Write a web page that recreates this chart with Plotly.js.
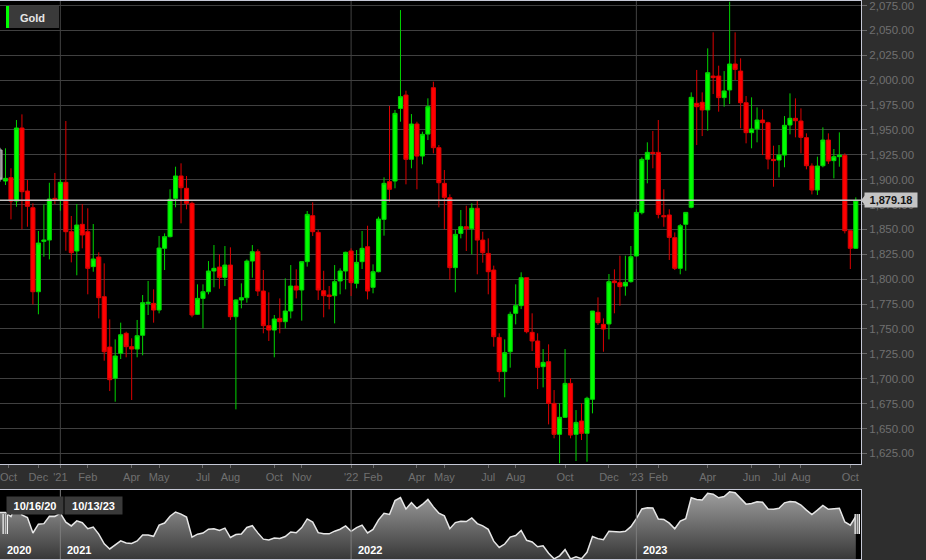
<!DOCTYPE html>
<html><head><meta charset="utf-8">
<script src="https://cdn.plot.ly/plotly-3.0.1.min.js"></script>
<style>html,body{margin:0;padding:0;background:#2e2e2e;overflow:hidden}#chart{width:926px;height:560px}</style>
</head><body><div id="chart"></div>
<script>
const seriesName = 'Gold';
const dates = [
'2020-10-16','2020-10-23','2020-10-30','2020-11-06','2020-11-13','2020-11-20','2020-11-27','2020-12-04','2020-12-11','2020-12-18','2020-12-25',
'2021-01-01','2021-01-08','2021-01-15','2021-01-22','2021-01-29','2021-02-05','2021-02-12','2021-02-19','2021-02-26','2021-03-05','2021-03-12','2021-03-19','2021-03-26','2021-04-02','2021-04-09','2021-04-16','2021-04-23','2021-04-30','2021-05-07','2021-05-14','2021-05-21','2021-05-28','2021-06-04','2021-06-11','2021-06-18','2021-06-25','2021-07-02','2021-07-09','2021-07-16','2021-07-23','2021-07-30','2021-08-06','2021-08-13','2021-08-20','2021-08-27','2021-09-03','2021-09-10','2021-09-17','2021-09-24','2021-10-01','2021-10-08','2021-10-15','2021-10-22','2021-10-29','2021-11-05','2021-11-12','2021-11-19','2021-11-26','2021-12-03','2021-12-10','2021-12-17','2021-12-24','2021-12-31',
'2022-01-07','2022-01-14','2022-01-21','2022-01-28','2022-02-04','2022-02-11','2022-02-18','2022-02-25','2022-03-04','2022-03-11','2022-03-18','2022-03-25','2022-04-01','2022-04-08','2022-04-15','2022-04-22','2022-04-29','2022-05-06','2022-05-13','2022-05-20','2022-05-27','2022-06-03','2022-06-10','2022-06-17','2022-06-24','2022-07-01','2022-07-08','2022-07-15','2022-07-22','2022-07-29','2022-08-05','2022-08-12','2022-08-19','2022-08-26','2022-09-02','2022-09-09','2022-09-16','2022-09-23','2022-09-30','2022-10-07','2022-10-14','2022-10-21','2022-10-28','2022-11-04','2022-11-11','2022-11-18','2022-11-25','2022-12-02','2022-12-09','2022-12-16','2022-12-23','2022-12-30',
'2023-01-06','2023-01-13','2023-01-20','2023-01-27','2023-02-03','2023-02-10','2023-02-17','2023-02-24','2023-03-03','2023-03-10','2023-03-17','2023-03-24','2023-03-31','2023-04-07','2023-04-14','2023-04-21','2023-04-28','2023-05-05','2023-05-12','2023-05-19','2023-05-26','2023-06-02','2023-06-09','2023-06-16','2023-06-23','2023-06-30','2023-07-07','2023-07-14','2023-07-21','2023-07-28','2023-08-04','2023-08-11','2023-08-18','2023-08-25','2023-09-01','2023-09-08','2023-09-15','2023-09-22','2023-09-29','2023-10-06','2023-10-13'];

const open = [
1929.8,1898.6,1902.0,1878.5,1951.9,1888.6,1871.8,1787.4,1838.0,1839.3,
1881.2,1879.5,1897.3,1847.7,1828.3,1855.1,1847.7,1812.6,1822.3,1782.4,
1731.8,1700.4,1725.5,1745.6,1732.2,1729.8,1743.6,1775.7,1775.7,1769.0,
1831.0,1842.7,1881.2,1903.7,1891.3,1876.2,1764.7,1780.7,1787.4,1808.2,
1812.2,1801.8,1814.2,1762.3,1779.1,1781.4,1818.2,1827.6,1788.1,1753.3,
1748.9,1760.6,1757.3,1768.0,1793.1,1789.1,1817.6,1863.8,1847.0,1788.4,
1784.1,1783.4,1798.2,1808.2,1828.3,1795.8,1817.6,1832.6,1791.8,1807.5,
1860.1,1898.0,1898.6,1971.6,1985.0,1920.4,1955.9,1923.7,1945.8,1992.4,
1932.1,1896.3,1881.9,1811.6,1846.0,1852.7,1850.7,1871.2,1839.3,1825.9,
1809.2,1741.5,1707.1,1727.1,1765.7,1773.4,1801.5,1746.6,1737.9,1712.1,
1717.1,1675.2,1644.1,1661.2,1695.3,1644.1,1657.5,1645.1,1679.3,1766.7,
1754.6,1755.0,1798.2,1796.5,1793.1,1797.5,1823.3,1866.8,1920.4,1927.4,
1927.4,1863.8,1864.5,1841.7,1810.9,1855.1,1872.2,1976.7,1977.7,1970.0,
2004.1,2004.1,1982.4,1990.1,2016.2,2009.1,1977.3,1947.2,1950.9,1959.9,
1957.2,1920.4,1919.7,1924.7,1954.9,1961.6,1958.9,1942.2,1913.7,1889.6,
1914.0,1939.8,1919.1,1923.1,1924.4,1848.7,1831.0];

const high = [
1932.0,1931.5,1911.4,1959.9,1965.6,1899.6,1876.2,1848.4,1875.2,1896.9,
1906.7,1900.3,1958.9,1863.5,1875.5,1875.5,1871.2,1855.4,1827.0,1815.9,
1759.6,1739.5,1756.3,1747.2,1740.6,1759.0,1784.1,1798.2,1789.8,1843.4,
1846.0,1890.3,1913.0,1916.4,1903.7,1877.9,1794.8,1794.8,1818.2,1834.3,
1824.9,1833.3,1832.0,1779.7,1795.8,1819.9,1834.3,1830.0,1809.2,1786.8,
1764.0,1780.7,1800.8,1814.2,1809.9,1817.6,1868.5,1877.2,1849.4,1808.5,
1793.1,1814.2,1810.9,1827.6,1831.0,1829.3,1848.4,1853.7,1814.9,1862.8,
1902.3,1974.0,1970.0,2070.4,1989.4,1965.9,1958.2,1948.2,1981.7,1998.4,
1934.8,1909.7,1885.2,1849.4,1869.5,1873.8,1876.2,1878.5,1847.7,1841.0,
1813.6,1745.6,1739.5,1767.3,1794.8,1806.9,1801.5,1765.7,1745.6,1729.8,
1734.5,1688.6,1675.2,1729.8,1700.4,1668.5,1675.2,1681.9,1768.0,1781.7,
1760.6,1805.2,1809.9,1823.6,1823.6,1833.3,1870.2,1922.4,1937.5,1948.9,
1959.9,1890.3,1870.2,1847.0,1855.4,1867.1,1987.7,2010.2,1987.7,2031.9,
2048.0,2014.5,2009.1,2078.8,2048.0,2021.9,1984.0,1982.7,1972.6,1970.6,
1958.2,1934.1,1934.8,1963.9,1986.7,1981.7,1971.6,1946.5,1916.4,1923.1,
1952.5,1946.5,1930.8,1947.5,1926.4,1848.7,1882.2];

const low = [
1898.0,1894.6,1860.1,1872.8,1850.1,1852.7,1774.7,1764.7,1822.6,1819.9,
1875.5,1868.8,1828.6,1816.9,1803.9,1831.0,1784.8,1807.5,1760.6,1718.1,
1687.6,1676.9,1719.8,1721.5,1678.6,1721.5,1723.5,1764.0,1756.3,1765.7,
1809.2,1842.0,1872.2,1856.1,1870.2,1761.7,1764.0,1750.6,1784.8,1791.8,
1790.4,1793.1,1759.0,1669.2,1770.7,1776.4,1801.5,1783.1,1745.6,1737.9,
1721.5,1745.6,1750.6,1760.6,1780.7,1758.3,1812.6,1843.4,1779.1,1761.7,
1769.7,1755.6,1784.8,1789.8,1783.1,1790.8,1810.2,1779.7,1785.8,1806.9,
1843.7,1877.9,1891.3,1958.2,1895.3,1911.4,1890.3,1915.4,1939.8,1926.4,
1872.2,1850.1,1799.2,1786.8,1841.0,1828.3,1824.9,1804.9,1816.6,1784.8,
1732.2,1697.0,1681.3,1711.1,1754.6,1770.0,1745.6,1727.8,1689.6,1691.3,
1654.1,1640.1,1615.0,1660.5,1640.1,1617.3,1638.4,1616.6,1665.2,1753.9,
1727.1,1739.5,1765.7,1773.4,1783.4,1796.5,1822.6,1865.1,1896.3,1911.4,
1861.1,1852.7,1819.3,1809.2,1804.9,1808.5,1871.2,1934.8,1943.8,1949.2,
1986.0,1968.3,1973.3,1976.0,2000.1,1951.5,1936.5,1931.5,1937.5,1924.7,
1910.4,1892.9,1902.3,1912.4,1945.5,1942.5,1926.4,1910.4,1885.2,1884.6,
1912.4,1915.7,1901.3,1913.0,1846.0,1810.2,1830.5];

const close = [
1900.6,1901.3,1878.5,1951.9,1887.9,1873.2,1787.4,1836.3,1839.3,1880.5,
1879.5,1897.3,1847.7,1826.6,1854.4,1844.4,1810.9,1820.3,1781.4,1727.1,
1699.0,1722.8,1744.2,1732.2,1729.8,1743.2,1776.4,1776.7,1769.0,1831.3,
1842.7,1880.2,1903.7,1891.9,1876.2,1764.0,1780.7,1787.4,1808.2,1810.9,
1801.8,1814.2,1762.3,1779.1,1781.4,1818.2,1827.6,1788.1,1753.3,1748.9,
1760.0,1757.3,1768.0,1793.1,1789.1,1817.6,1865.1,1847.7,1789.1,1783.4,
1782.7,1797.5,1808.2,1827.0,1796.5,1816.9,1831.0,1788.1,1807.5,1860.4,
1896.3,1890.3,1966.6,1983.4,1920.4,1955.9,1923.7,1945.5,1973.3,1932.1,
1896.9,1882.2,1811.6,1845.0,1852.7,1850.7,1871.2,1839.3,1826.6,1807.5,
1742.2,1707.1,1726.2,1764.7,1773.4,1801.5,1747.2,1737.9,1711.4,1716.4,
1675.2,1644.1,1661.2,1695.3,1643.4,1656.1,1645.1,1680.3,1768.0,1756.3,
1749.9,1797.5,1796.5,1792.5,1796.8,1822.6,1867.1,1920.4,1927.4,1926.4,
1865.1,1862.8,1842.0,1810.9,1853.7,1867.1,1982.7,1973.3,1970.0,2007.5,
2002.5,1982.4,1989.1,2016.2,2010.8,1977.3,1947.2,1950.9,1959.9,1957.2,
1920.7,1919.1,1924.7,1954.6,1961.6,1959.2,1942.5,1914.0,1889.6,1913.7,
1939.8,1918.7,1923.1,1924.7,1848.7,1831.0,1879.18];

const tickDates = ['2020-10-27','2020-12-04','2021-01-01','2021-02-05','2021-04-02','2021-05-07','2021-07-02','2021-08-06','2021-10-01','2021-11-05','2022-01-07','2022-02-04','2022-04-01','2022-05-06','2022-07-01','2022-08-05','2022-10-07','2022-12-02','2023-01-06','2023-02-03','2023-04-07','2023-06-02','2023-07-07','2023-08-04','2023-10-06'];
const tickLabels = ['Oct','Dec',"'21",'Feb','Apr','May','Jul','Aug','Oct','Nov',"'22",'Feb','Apr','May','Jul','Aug','Oct','Dec',"'23",'Feb','Apr','Jun','Jul','Aug','Oct'];
const yTicks = [1625,1650,1675,1700,1725,1750,1775,1800,1825,1850,1875,1900,1925,1950,1975,2000,2025,2050,2075];
const yearDates = ['2020-10-16','2021-01-01','2022-01-07','2023-01-06'];
const yearLabels = ['2020','2021','2022','2023'];

// ---- layout helpers ----
const W = 926, H = 560;
const FONT = 'Liberation Sans, Arial, sans-serif';
const px = x => x / W;
const py = y => 1 - y / H;
const plotRight = px(861);
const xRange = [dates[0], '2023-10-19 15:00'];
const n = dates.length;
const lastClose = close[n - 1];
const minC = Math.min(...close), maxC = Math.max(...close);
const navLo = minC, navHi = maxC + (maxC - minC) * 0.025;
const fmtDate = s => { const [y, m, d] = s.split('-'); return m + '/' + d + '/' + y.slice(2); };
const fmtPrice = v => new Intl.NumberFormat('en-US', {minimumFractionDigits: 2, maximumFractionDigits: 2}).format(v);

const traces = [
  {
    type: 'candlestick', x: dates.slice(0, 1), open: open.slice(0, 1), high: high.slice(0, 1),
    low: low.slice(0, 1), close: close.slice(0, 1), xaxis: 'x', yaxis: 'y',
    increasing: {line: {color: '#b4b4b4', width: 1}, fillcolor: '#909090'},
    decreasing: {line: {color: '#b4b4b4', width: 1}, fillcolor: '#909090'},
    whiskerwidth: 0, hoverinfo: 'none', showlegend: false
  },
  {
    type: 'candlestick', name: seriesName, x: dates.slice(1), open: open.slice(1), high: high.slice(1),
    low: low.slice(1), close: close.slice(1), xaxis: 'x', yaxis: 'y',
    increasing: {line: {color: '#00d400', width: 1}, fillcolor: '#00ff00'},
    decreasing: {line: {color: '#dc0000', width: 1}, fillcolor: '#ff0000'},
    whiskerwidth: 0, hoverinfo: 'none', showlegend: false
  },
  {
    type: 'scatter', mode: 'lines', x: dates, y: close, xaxis: 'x2', yaxis: 'y2',
    line: {color: '#e6e6e6', width: 1.5},
    fill: 'tozeroy',
    fillgradient: {type: 'vertical', colorscale: [[0, '#383838'], [1, '#a2a2a2']], start: navLo, stop: navHi},
    hoverinfo: 'skip', showlegend: false
  }
];

const shapes = [];
for (let k = 1; k < yearDates.length; k++) {
  shapes.push({type: 'line', xref: 'x', yref: 'y domain', x0: yearDates[k], x1: yearDates[k], y0: 0, y1: 1,
    line: {color: '#424242', width: 1}, layer: 'below'});
  shapes.push({type: 'line', xref: 'x2', yref: 'y2 domain', x0: yearDates[k], x1: yearDates[k], y0: 0, y1: 1,
    line: {color: '#7c7c7c', width: 1}, layer: 'above'});
}
// last price line
shapes.push({type: 'line', xref: 'paper', yref: 'y', x0: 0, x1: plotRight, y0: lastClose, y1: lastClose,
  line: {color: '#c4c4c4', width: 1.5}, layer: 'above'});
// legend box
shapes.push({type: 'rect', xref: 'paper', yref: 'paper', x0: px(6), x1: px(59), y0: py(28), y1: py(6),
  fillcolor: '#3a3a3a', line: {width: 0}});
shapes.push({type: 'rect', xref: 'paper', yref: 'paper', x0: px(6), x1: px(9), y0: py(28), y1: py(6),
  fillcolor: '#00ff00', line: {width: 0}});
// navigator handles
function handle(x0) {
  shapes.push({type: 'rect', xref: 'paper', yref: 'paper', x0: px(x0), x1: px(x0 + 5.5), y0: py(534), y1: py(514),
    fillcolor: '#f2f2f2', line: {width: 0}});
  [1.8, 3.7].forEach(d => shapes.push({type: 'line', xref: 'paper', yref: 'paper', x0: px(x0 + d), x1: px(x0 + d),
    y0: py(534), y1: py(514), line: {color: '#505050', width: 1}}));
}
handle(2.5);
handle(854.5);
// price tag pointer
shapes.push({type: 'path', xref: 'paper', yref: 'y', ysizemode: 'pixel', yanchor: lastClose,
  path: 'M ' + px(861) + ' 0 L ' + px(865) + ' 5 L ' + px(865) + ' -5 Z', fillcolor: '#c4c4c4', line: {width: 0}});

const annotations = [
  {xref: 'paper', yref: 'paper', x: px(18), y: py(17.5), xanchor: 'left', yanchor: 'middle', showarrow: false,
    text: seriesName, font: {family: FONT, size: 11, color: '#e6e6e6', weight: 'bold'}},
  {xref: 'paper', yref: 'paper', x: px(35), y: py(505.5), xanchor: 'center', yanchor: 'middle', showarrow: false,
    text: fmtDate(dates[0]), bgcolor: '#3a3a3a', width: 56, height: 17, borderpad: 0,
    font: {family: FONT, size: 11, color: '#ffffff', weight: 'bold'}},
  {xref: 'paper', yref: 'paper', x: px(93.5), y: py(505.5), xanchor: 'center', yanchor: 'middle', showarrow: false,
    text: fmtDate(dates[n - 1]), bgcolor: '#3a3a3a', width: 57, height: 17, borderpad: 0,
    font: {family: FONT, size: 11, color: '#ffffff', weight: 'bold'}},
  {xref: 'paper', yref: 'y', x: px(864), y: lastClose, xanchor: 'left', yanchor: 'middle', showarrow: false,
    text: fmtPrice(lastClose), bgcolor: '#c4c4c4', width: 51, height: 13, borderpad: 0.5,
    font: {family: FONT, size: 11, color: '#141414', weight: 'bold'}}
];
yearLabels.forEach((t, k) => annotations.push({
  xref: 'x2', yref: 'paper', x: yearDates[k], y: py(550), xanchor: 'left', yanchor: 'middle', xshift: 5,
  showarrow: false, text: t, font: {family: FONT, size: 11, color: '#ffffff', weight: 'bold'}
}));

const layout = {
  width: W, height: H, margin: {l: 0, r: 0, t: 0, b: 0, pad: 0},
  paper_bgcolor: '#2e2e2e', plot_bgcolor: '#000000',
  showlegend: false, hovermode: false, dragmode: false,
  boxgap: 0.25, boxgroupgap: 0,
  xaxis: {
    type: 'date', domain: [0, plotRight], range: xRange, anchor: 'y',
    rangeslider: {visible: false},
    tickmode: 'array', tickvals: tickDates, ticktext: tickLabels,
    ticks: 'outside', ticklen: 3, tickcolor: '#6a6a6a',
    tickfont: {family: FONT, size: 11, color: '#707070'}, ticklabeloverflow: 'allow',
    showgrid: false, zeroline: false, showline: true, mirror: true, linecolor: '#c5c8d6', linewidth: 1,
    automargin: false, fixedrange: true
  },
  yaxis: {
    domain: [py(464), py(1)], range: [1614.3, 2079.5], side: 'right', anchor: 'x',
    tickmode: 'array', tickvals: yTicks, tickformat: ',.2f',
    ticks: 'outside', ticklen: 5, tickcolor: '#6a6a6a',
    tickfont: {family: FONT, size: 11.5, color: '#707070'}, ticklabeloverflow: 'allow',
    showgrid: true, gridcolor: '#404040', gridwidth: 1,
    zeroline: false, showline: true, mirror: true, linecolor: '#c5c8d6', linewidth: 1,
    automargin: false, fixedrange: true
  },
  xaxis2: {
    type: 'date', domain: [0, plotRight], range: xRange, anchor: 'y2',
    showticklabels: false, ticks: '', showgrid: false, zeroline: false,
    showline: true, mirror: true, linecolor: '#c5c8d6', linewidth: 1, automargin: false, fixedrange: true
  },
  yaxis2: {
    domain: [py(559), py(490)], range: [navLo, navHi], anchor: 'x2',
    showticklabels: false, ticks: '', showgrid: false, zeroline: false,
    showline: true, mirror: true, linecolor: '#c5c8d6', linewidth: 1, automargin: false, fixedrange: true
  },
  shapes: shapes,
  annotations: annotations
};

Plotly.newPlot('chart', traces, layout, {displayModeBar: false, staticPlot: true});
</script>
</body></html>
